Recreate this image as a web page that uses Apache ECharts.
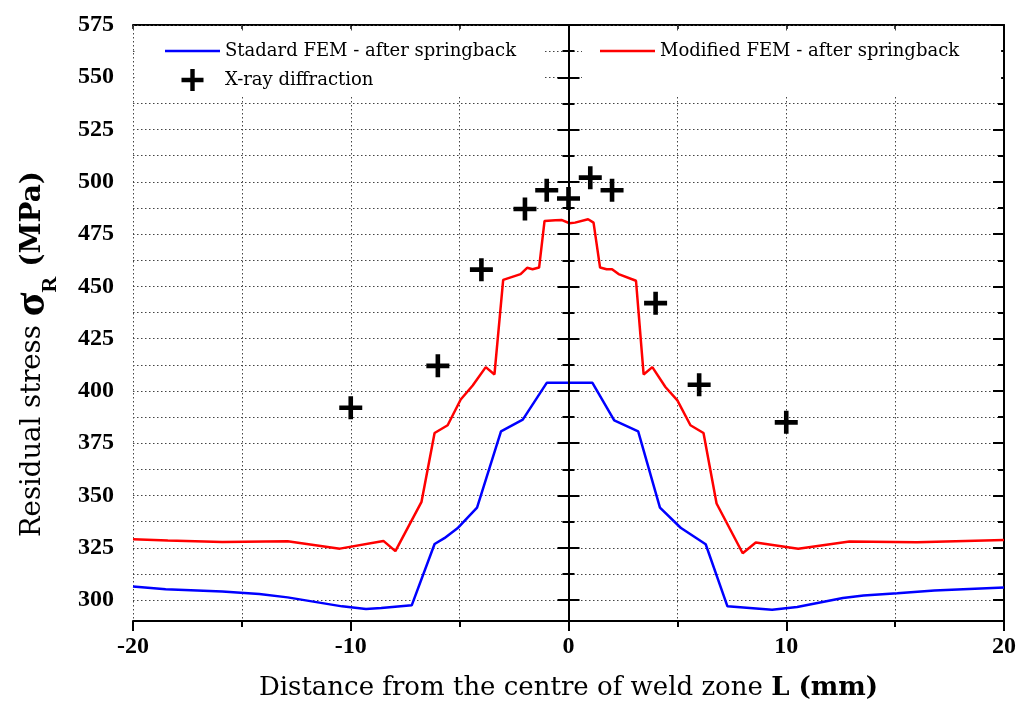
<!DOCTYPE html>
<html>
<head>
<meta charset="utf-8">
<script src="https://cdnjs.cloudflare.com/ajax/libs/echarts/6.0.0/echarts.min.js"></script>
<style>
  html, body { margin: 0; padding: 0; background: #fff; }
  #myChart { width: 1029px; height: 706px; }
</style>
</head>
<body>
<div id="myChart"></div>
<script type="text/javascript">

  // data
  var standardX = [-20, -18.5, -15.9, -14.2, -12.9, -10.4, -9.3, -8.6, -7.2, -6.15, -5.7, -5.1, -4.2, -3.1, -2.1, -1.0,
                   1.1, 2.1, 3.2, 4.2, 5.15, 6.3, 7.3, 9.35, 10.5, 12.6, 13.55, 15.1, 16.8, 20];
  var standardY = [306.5, 305.2, 304.1, 302.9, 301.3, 297, 295.7, 296.2, 297.5, 326.8, 329.6, 334.3, 344.2, 380.7, 386.3, 403.9,
                   403.9, 385.9, 380.7, 344.2, 334.6, 326.7, 297, 295.4, 296.7, 301, 302.2, 303.3, 304.6, 306];

  var modifiedX = [-20, -18.4, -15.9, -12.9, -10.5, -8.5, -7.95, -6.75, -6.15, -5.55, -4.95, -4.4, -3.8, -3.4, -3.0,
                   -2.2, -1.9, -1.65, -1.35, -1.1, -0.6, -0.3, 0.05, 0.3, 0.9, 1.15, 1.45, 1.75, 2.0, 2.3,
                   3.1, 3.45, 3.85, 4.45, 5.0, 5.6, 6.2, 6.8, 8.0, 8.6, 10.55, 12.9, 16.0, 20];
  var modifiedY = [329.1, 328.5, 327.8, 328.1, 324.6, 328.3, 323.4, 347, 379.9, 383.6, 395.9, 402.6, 411.4, 407.9, 453.1,
                   455.9, 458.9, 458.2, 459, 481.3, 481.6, 481.7, 480.2, 480.5, 482.1, 480.5, 459, 458.2, 458.2, 455.9,
                   452.7, 407.9, 411.4, 401.9, 395.5, 383.6, 379.9, 346.2, 322.4, 327.5, 324.6, 328, 327.6, 328.7];

  var xrayX = [-10, -6, -4, -2, -1, 0, 1, 2, 4, 6, 10];
  var xrayY = [392, 412, 458, 487, 496, 492, 502, 496, 442, 403, 385];

  var majorTicks = [300, 325, 350, 375, 400, 425, 450, 475, 500, 525, 550, 575];
  var minorTicks = [312.5, 337.5, 362.5, 387.5, 412.5, 437.5, 462.5, 487.5, 512.5, 537.5, 562.5];

  var seriesNames = ['Stadard FEM - after springback', 'X-ray diffraction', 'Modified FEM - after springback'];

  function pairs(xs, ys) {
    return xs.map(function (x, i) { return [x, ys[i]]; });
  }

  var chartDom = document.getElementById('myChart');
  var myChart = echarts.init(chartDom, null, { renderer: 'canvas' });

  var serif = 'DejaVu Serif';
  var tickFont = 'Liberation Serif';
  var dotted = { color: '#444', width: 1, type: [1.5, 2.5] };
  var plus = 'path://M4,0 H6 V4 H10 V6 H6 V10 H4 V6 H0 V4 H4 Z';
  var lineIcon = 'path://M0,0 H110 V5 H0 Z';
  var yMin = 290, yMax = 575;

  // builds one of the y axes (left / centre / right, major / minor)
  function yAxisPart(opts) {
    return {
      type: 'value',
      min: yMin,
      max: yMax,
      position: opts.position,
      offset: opts.offset || 0,
      axisLine: { show: !!opts.line, lineStyle: { color: '#000', width: 2 } },
      axisTick: {
        show: true,
        inside: !!opts.inside,
        length: opts.length,
        customValues: opts.ticks,
        lineStyle: { color: '#000', width: 2 }
      },
      axisLabel: opts.labels ? {
        customValues: majorTicks,
        color: '#000',
        fontFamily: tickFont,
        fontWeight: 'bold',
        fontSize: 24,
        margin: 19
      } : { show: false },
      splitLine: { show: !!opts.split, lineStyle: dotted },
      z: opts.z || 3
    };
  }

  var gridLeft = 133, gridRight = 25;
  var plotWidth = 1029 - gridLeft - gridRight;
  var zeroPx = plotWidth / 2;

  var yAxes = [
    Object.assign(yAxisPart({ position: 'left', line: true, length: 11, ticks: majorTicks, labels: true, split: true }), {
      name: '{a|Residual stress }{s|σ}{r|R}{b| (MPa)}',
      nameLocation: 'middle',
      nameGap: 72,
      nameRotate: 90,
      nameTextStyle: {
        color: '#000',
        padding: [0, 62, 0, 0],
        rich: {
          a: { fontFamily: serif, fontSize: 27.5, color: '#000', lineHeight: 56 },
          s: { fontFamily: tickFont, fontWeight: 'bold', fontSize: 44, color: '#000', lineHeight: 56 },
          r: { fontFamily: tickFont, fontWeight: 'bold', fontSize: 22, color: '#000', verticalAlign: 'bottom', lineHeight: 22 },
          b: { fontFamily: serif, fontWeight: 'bold', fontSize: 28, color: '#000', lineHeight: 56 }
        }
      }
    }),
    yAxisPart({ position: 'left', length: 6, ticks: minorTicks, split: true }),
    yAxisPart({ position: 'left', offset: -(zeroPx - 11), inside: true, length: 22, ticks: majorTicks }),
    yAxisPart({ position: 'left', offset: -(zeroPx - 6), inside: true, length: 12, ticks: minorTicks }),
    yAxisPart({ position: 'right', line: true, inside: true, length: 11, ticks: majorTicks }),
    yAxisPart({ position: 'right', inside: true, length: 6, ticks: minorTicks })
  ];

  var legendText = { fontFamily: serif, fontSize: 18, color: '#000' };

  var option = {
    backgroundColor: '#fff',
    animation: false,
    grid: { left: gridLeft, right: gridRight, top: 25, bottom: 78, containLabel: false },
    legend: [
      {
        orient: 'vertical',
        left: 135,
        top: 31,
        padding: [11, 28, 6, 30],
        itemGap: 9,
        itemWidth: 55,
        itemHeight: 22,
        backgroundColor: '#fff',
        data: [{ name: seriesNames[0], icon: lineIcon }, seriesNames[1]],
        textStyle: legendText
      },
      {
        orient: 'vertical',
        left: 582,
        top: 31,
        padding: [11, 42, 37, 18],
        itemWidth: 55,
        itemHeight: 22,
        backgroundColor: '#fff',
        data: [{ name: seriesNames[2], icon: lineIcon }],
        textStyle: legendText
      }
    ],
    xAxis: [
      {
        type: 'value',
        position: 'bottom',
        min: -20,
        max: 20,
        interval: 10,
        name: '{a|Distance from the centre of weld zone }{b|L (mm)}',
        nameLocation: 'middle',
        nameGap: 54,
        nameTextStyle: {
          rich: {
            a: { fontFamily: serif, fontSize: 26, color: '#000' },
            b: { fontFamily: serif, fontSize: 26, fontWeight: 'bold', color: '#000' }
          }
        },
        axisLine: { onZero: false, lineStyle: { color: '#000', width: 2 } },
        axisTick: { length: 10, lineStyle: { color: '#000', width: 2 } },
        minorTick: { show: true, splitNumber: 2, length: 6, lineStyle: { color: '#000', width: 2 } },
        axisLabel: {
          color: '#000',
          fontFamily: tickFont,
          fontWeight: 'bold',
          fontSize: 24,
          margin: 14
        },
        splitLine: { show: true, lineStyle: dotted },
        minorSplitLine: { show: true, lineStyle: dotted }
      },
      {
        type: 'value',
        position: 'top',
        min: -20,
        max: 20,
        interval: 10,
        axisLine: { onZero: false, lineStyle: { color: '#000', width: 2 } },
        axisTick: { inside: true, length: 4, lineStyle: { color: '#000', width: 1.5 } },
        minorTick: { show: true, splitNumber: 2, length: 4, lineStyle: { color: '#000', width: 1.5 } },
        axisLabel: { show: false },
        splitLine: { show: false }
      }
    ],
    yAxis: yAxes,
    series: [
      {
        name: seriesNames[0],
        type: 'line',
        data: pairs(standardX, standardY),
        symbol: 'none',
        lineStyle: { color: '#0000ff', width: 2.5 },
        itemStyle: { color: '#0000ff' },
        z: 4
      },
      {
        name: seriesNames[1],
        type: 'scatter',
        data: pairs(xrayX, xrayY),
        symbol: plus,
        symbolSize: 23,
        itemStyle: { color: '#000', opacity: 1 },
        z: 6
      },
      {
        name: seriesNames[2],
        type: 'line',
        data: pairs(modifiedX, modifiedY),
        symbol: 'none',
        lineStyle: { color: '#ff0000', width: 2.5 },
        itemStyle: { color: '#ff0000' },
        z: 4,
        markLine: {
          silent: true,
          symbol: 'none',
          label: { show: false },
          lineStyle: { color: '#000', width: 2, type: 'solid' },
          data: [{ xAxis: 0 }]
        }
      }
    ]
  };

  option && myChart.setOption(option);
</script>
</body>
</html>
